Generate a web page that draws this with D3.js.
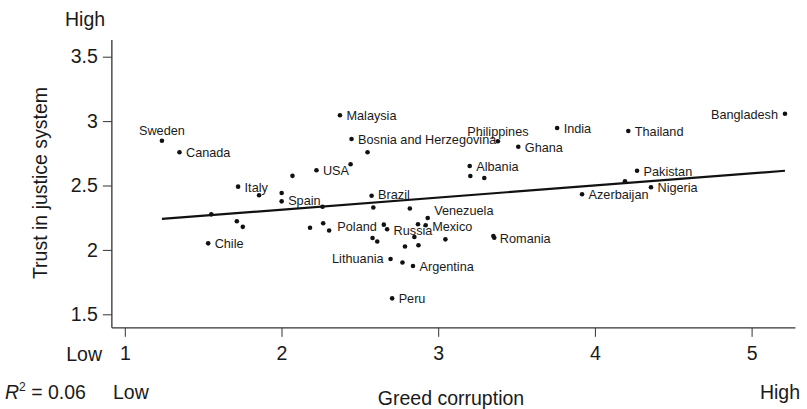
<!DOCTYPE html>
<html>
<head>
<meta charset="utf-8">
<script src="https://cdn.jsdelivr.net/npm/d3@7"></script>
<style>
  html, body { margin: 0; padding: 0; background: #fff; }
  svg text { font-family: "Liberation Sans", Arial, Helvetica, sans-serif; fill: #1a1a1a; }
</style>
</head>
<body>
<svg id="chart" width="807" height="409"></svg>
<script>
// Country names ("" = unlabelled point)
const countries = [
  "Sweden", "Canada", "Italy", "", "", "Spain", "", "", "", "Chile",
  "", "USA", "", "", "", "", "Malaysia", "Bosnia and Herzegovina", "", "",
  "Brazil", "", "", "Venezuela", "", "Mexico", "Poland", "Russia", "", "",
  "", "", "", "", "Lithuania", "", "Argentina", "Peru", "Romania", "",
  "Albania", "", "", "Philippines", "Ghana", "India", "Thailand", "Pakistan", "", "Azerbaijan",
  "Nigeria", "Bangladesh"
];
// Greed corruption (x)
const greed = [
  1.237, 1.349, 1.723, 1.857, 2.001, 2.001, 1.552, 1.715, 1.753, 1.532,
  2.070, 2.223, 2.262, 2.182, 2.266, 2.304, 2.373, 2.447, 2.549, 2.441,
  2.575, 2.586, 2.819, 2.933, 2.871, 2.920, 2.653, 2.674, 2.581, 2.611,
  2.848, 2.788, 2.874, 3.046, 2.696, 2.772, 2.839, 2.706, 3.352, 3.358,
  3.201, 3.205, 3.294, 3.381, 3.511, 3.759, 4.213, 4.269, 4.192, 3.918,
  4.358, 5.213
];
// Trust in justice system (y)
const trust = [
  2.848, 2.758, 2.491, 2.424, 2.442, 2.377, 2.276, 2.223, 2.179, 2.051,
  2.575, 2.618, 2.335, 2.172, 2.207, 2.151, 3.045, 2.861, 2.758, 2.665,
  2.421, 2.329, 2.321, 2.248, 2.199, 2.191, 2.196, 2.160, 2.092, 2.065,
  2.100, 2.026, 2.036, 2.082, 1.929, 1.902, 1.875, 1.624, 2.108, 2.094,
  2.651, 2.574, 2.558, 2.843, 2.801, 2.946, 2.923, 2.615, 2.533, 2.432,
  2.486, 3.057
];
const xTicks = [1, 2, 3, 4, 5];
const yTicks = [1.5, 2, 2.5, 3, 3.5];
// Fitted line: trust = fitIntercept + fitSlope * greed
const fitIntercept = 2.124;
const fitSlope = 0.0941;
const rSquared = "0.06";

// Label placement: side of the dot and vertical nudge
const labelSide = { "Sweden": "above", "Philippines": "above", "Poland": "left", "Lithuania": "left", "Bangladesh": "left" };
const labelDy = { "Venezuela": -2.7, "Mexico": 6, "Russia": 5.8, "Poland": 6, "Romania": 6.8, "Lithuania": 4.3, "Brazil": 3.8, "Spain": 4 };

const svg = d3.select("#chart");
const x = d3.scaleLinear().domain([1, 5]).range([124.8, 751.6]);
const y = d3.scaleLinear().domain([1.5, 3.5]).range([314.3, 56.7]);

const axisColor = "#333";
const tickFont = 19.5;

// Axis lines
svg.append("line")
  .attr("x1", x(0.9175)).attr("x2", x(0.9175))
  .attr("y1", y(3.63)).attr("y2", y(1.395))
  .attr("stroke", axisColor).attr("stroke-width", 1.3);
svg.append("line")
  .attr("x1", x(0.9175)).attr("x2", x(5.28))
  .attr("y1", y(1.395)).attr("y2", y(1.395))
  .attr("stroke", axisColor).attr("stroke-width", 1.3);

// Y axis ticks
const yAxis = d3.axisLeft(y).tickValues(yTicks).tickSize(9).tickPadding(5)
  .tickFormat(d => String(d));
const gy = svg.append("g").attr("transform", `translate(${x(0.9175)},0)`).call(yAxis);
gy.select(".domain").remove();
gy.selectAll(".tick line").attr("stroke", axisColor).attr("stroke-width", 1);
gy.selectAll(".tick text").attr("font-size", tickFont).attr("fill", "#1a1a1a")
  .style("font-family", "'Liberation Sans', Arial, sans-serif");

// X axis ticks
const xAxis = d3.axisBottom(x).tickValues(xTicks).tickSize(9).tickPadding(9)
  .tickFormat(d3.format("d"));
const gx = svg.append("g").attr("transform", `translate(0,${y(1.395)})`).call(xAxis);
gx.select(".domain").remove();
gx.selectAll(".tick line").attr("stroke", axisColor).attr("stroke-width", 1);
gx.selectAll(".tick text").attr("font-size", tickFont).attr("fill", "#1a1a1a")
  .style("font-family", "'Liberation Sans', Arial, sans-serif");

// Axis end annotations
svg.append("text").attr("x", 65).attr("y", 26).attr("font-size", tickFont).text("High");
svg.append("text").attr("x", 102).attr("y", 361).attr("text-anchor", "end").attr("font-size", tickFont).text("Low");
svg.append("text").attr("x", 113).attr("y", 399).attr("font-size", tickFont).text("Low");
svg.append("text").attr("x", 800).attr("y", 399).attr("text-anchor", "end").attr("font-size", tickFont).text("High");

// Axis titles
svg.append("text")
  .attr("transform", "translate(47,183) rotate(-90)")
  .attr("text-anchor", "middle").attr("font-size", tickFont)
  .text("Trust in justice system");
svg.append("text").attr("x", 451).attr("y", 405).attr("text-anchor", "middle")
  .attr("font-size", tickFont).text("Greed corruption");

// R squared
const r2 = svg.append("text").attr("x", 5).attr("y", 399).attr("font-size", tickFont);
r2.append("tspan").attr("font-style", "italic").text("R");
r2.append("tspan").attr("font-size", 12).attr("dy", -8).text("2");
r2.append("tspan").attr("dy", 8).text(" = " + rSquared);

// Fitted line across the range of the data
const xExt = d3.extent(greed);
svg.append("line")
  .attr("x1", x(xExt[0])).attr("y1", y(fitIntercept + fitSlope * xExt[0]))
  .attr("x2", x(xExt[1])).attr("y2", y(fitIntercept + fitSlope * xExt[1]))
  .attr("stroke", "#111").attr("stroke-width", 2.2);

// Points
const pts = countries.map((c, i) => ({ name: c, gx: greed[i], ty: trust[i] }));
svg.append("g").selectAll("circle").data(pts).join("circle")
  .attr("cx", d => x(d.gx)).attr("cy", d => y(d.ty)).attr("r", 2.3).attr("fill", "#111");

// Country labels
svg.append("g").selectAll("text").data(pts.filter(d => d.name)).join("text")
  .attr("font-size", 12.7)
  .attr("x", d => {
    const s = labelSide[d.name] || "right";
    if (s === "above") return x(d.gx);
    if (s === "left") return x(d.gx) - 7;
    return x(d.gx) + 6.5;
  })
  .attr("y", d => {
    const s = labelSide[d.name] || "right";
    if (s === "above") return y(d.ty) - 5.7;
    return y(d.ty) + (labelDy[d.name] !== undefined ? labelDy[d.name] : 5);
  })
  .attr("text-anchor", d => {
    const s = labelSide[d.name] || "right";
    return s === "above" ? "middle" : s === "left" ? "end" : "start";
  })
  .text(d => d.name);
</script>
</body>
</html>
